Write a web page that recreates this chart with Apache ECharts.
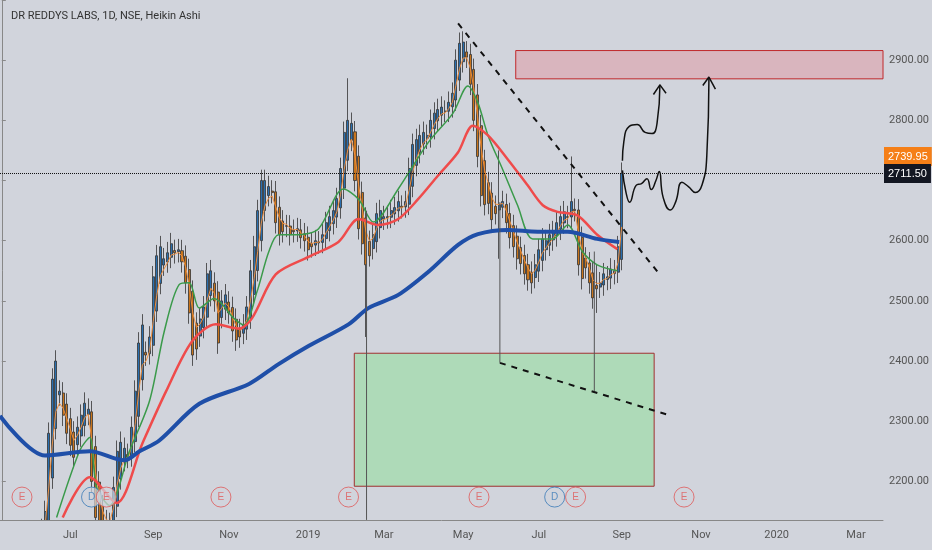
<!DOCTYPE html><html><head><meta charset="utf-8">
<script src="https://cdn.jsdelivr.net/npm/echarts@6/dist/echarts.min.js"></script>
<style>html,body{margin:0;padding:0;background:#d1d4dc}#c{width:932px;height:550px}</style></head><body><div id="c"></div>
<script>
// closes, one per 2 trading days
const closes=[2100,2095,2090,2085,2080,2085,2090,2095,2100,2105,2110,2120,
2150,2280,2370,2400,2350,2310,2280,2260,2240,2290,2310,2330,2320,2200,2140,2120,2110,2115,
2130,2190,2250,2265,2255,2240,2290,2350,2430,2460,2410,2440,2540,2575,2590,2570,2580,2595,2580,2585,
2565,2530,2480,2410,2420,2470,2490,2545,2550,2500,2430,2500,2510,2480,2450,2435,2440,2460,2490,2550,
2590,2650,2700,2700,2690,2680,2630,2610,2615,2625,2610,2615,2620,2605,2600,2585,2590,2600,2598,2610,
2630,2640,2650,2670,2720,2780,2800,2795,2700,2620,2595,2560,2575,2610,2645,2650,2640,2640,2650,2655,
2665,2655,2665,2720,2760,2768,2775,2780,2775,2800,2812,2818,2822,2815,2830,2845,2900,2928,2930,2905,
2860,2800,2740,2675,2660,2662,2635,2645,2660,2665,2630,2605,2590,2570,2562,2545,2535,2530,2560,2585,
2603,2600,2610,2615,2630,2640,2648,2640,2665,2650,2560,2537,2555,2530,2505,2520,2530,2545,2540,2553,
2550,2590,2712];
const longWicks=[[96,2870,2770],[101,2620,2440],[138,2750,2570],[158,2740,2630],[165,2560,2480],[172,2730,2590]];
const ema200=[[-0.5,2309],[12,2243],[24.4,2250],[34,2235],[38.2,2250],[43.7,2268],[54.8,2329],[68.6,2362],[76.8,2395],[85.1,2425],[96.2,2461],[101.7,2488],[110,2510],[118.3,2548],[126.6,2593],[132.1,2611],[140.4,2618],[148.7,2615],[157,2615],[165.2,2603],[171.3,2598]];
const ema50=[[16.9,2140],[24.4,2207],[31.8,2164],[39,2263],[45.6,2350],[52.8,2433],[59.4,2461],[65.8,2454],[69.4,2471],[76,2544],[85.1,2573],[93.4,2598],[99,2636],[104.5,2626],[110,2636],[115.5,2669],[121,2708],[126.6,2747],[130.7,2791],[134.9,2775],[140.4,2735],[145.9,2692],[150.1,2659],[154.2,2648],[159.7,2642],[165.2,2610],[170.8,2586]];
const ema20=[[15.2,2140],[21.6,2251],[24.4,2273],[26.3,2190],[29.9,2160],[35.4,2250],[41,2334],[45.1,2450],[49.2,2527],[52,2530],[54.8,2488],[58.9,2504],[64.4,2471],[67.2,2460],[70.8,2515],[74.1,2582],[76.8,2610],[82.4,2610],[87.9,2620],[94.8,2686],[99,2669],[103.1,2631],[110,2686],[118.3,2763],[125.2,2812],[129.3,2857],[132.1,2829],[134.9,2775],[139,2718],[143.1,2659],[147.3,2603],[152.8,2603],[157,2626],[161.1,2582],[165.2,2560],[170.8,2550]];
const path1=[[172.2,2733],[172.6,2765],[174.1,2790],[176.3,2793],[178.5,2780],[180.4,2778],[181.8,2795],[182.6,2859]];
const path2=[[172.2,2717],[173.2,2680],[174.2,2664],[176,2692],[177.5,2695],[179,2703],[180.2,2685],[181.5,2700],[182.4,2715],[183.5,2672],[185.5,2651],[187,2665],[188.7,2697],[190.5,2690],[192.5,2680],[194.3,2693],[195.6,2740],[196.2,2870]];
const eventMarks=[[5.6,'E','#e05a5a'],[24.9,'D','#3a7ab8'],[29,'E','#e05a5a'],[60.8,'E','#e05a5a'],[96.2,'E','#e05a5a'],[132.4,'E','#e05a5a'],[153.4,'D','#3a7ab8'],[159.2,'E','#e05a5a'],[189.3,'E','#e05a5a']];
const yTicks=[2200,2300,2400,2500,2600,2700,2800,2900];
const N=245;
const cats=[];{let d=new Date(Date.UTC(2018,4,9));let k=0;while(cats.length<N){const w=d.getUTCDay();if(w!==0&&w!==6){if(k%2===0)cats.push(d.toISOString().slice(0,10));k++;}d=new Date(d.getTime()+86400000);}}
const mn=['Jan','Feb','Mar','Apr','May','Jun','Jul','Aug','Sep','Oct','Nov','Dec'];
const showIdx=new Set();for(let i=1;i<N;i++){const m=+cats[i].slice(5,7),pm=+cats[i-1].slice(5,7);if(m!==pm&&m%2===1)showIdx.add(i);}
const candles=[];let po=closes[0],pc=closes[0];
closes.forEach((c,i)=>{const o=i===0?c:(po+pc)/2;let h=Math.max(o,c)+18,l=Math.min(o,c)-18;
 const lw=longWicks.find(w=>w[0]===i);if(lw){h=Math.max(h,lw[1]);l=Math.min(l,lw[2]);}
 candles.push([o,c,l,h]);po=o;pc=c;});
const fast=[];let e=closes[0];closes.forEach((c,i)=>{e=i?e+(c-e)*0.4:c;fast.push(e);});
const priceLbl=(v,bg)=>({show:true,position:'end',formatter:v.toFixed(2),backgroundColor:bg,color:'#fff',padding:[4,4],fontSize:11,distance:1});
const chart=echarts.init(document.getElementById('c'));
chart.setOption({backgroundColor:'#d1d4dc',animation:false,
 title:{text:'DR REDDYS LABS, 1D, NSE, Heikin Ashi',left:6,top:6,textStyle:{fontSize:11,fontWeight:'normal',color:'#333',fontFamily:'Roboto'}},
 grid:{left:0,right:45,top:-3.6,bottom:8.4},
 xAxis:[{type:'category',data:cats,z:10,offset:-21,axisLine:{lineStyle:{color:'#888'}},axisTick:{show:false},
  axisLabel:{interval:(i)=>showIdx.has(i),color:'#555',fontSize:11,fontFamily:'Roboto',margin:9,
   formatter:(v)=>{const m=+v.slice(5,7);return m===1?v.slice(0,4):mn[m-1];}},splitLine:{show:false}},
  {type:'value',min:-0.5,max:N-0.5,show:false}],
 yAxis:{type:'value',position:'right',min:2100,max:3000,interval:100,axisLine:{show:true,lineStyle:{color:'#888'}},
  axisTick:{show:true,length:4,lineStyle:{color:'#888'}},splitLine:{show:false},
  axisLabel:{color:'#555',fontSize:11,fontFamily:'Roboto',margin:6,formatter:v=>yTicks.includes(v)?v.toFixed(2):''}},
 graphic:[{type:'rect',z:5,shape:{x:0,y:520,width:887,height:30},style:{fill:'#d1d4dc'}}],
 series:[
  {type:'line',xAxisIndex:1,data:[],symbol:'none',
   markArea:{silent:true,data:[
    [{xAxis:142.6,yAxis:2916,itemStyle:{color:'rgba(226,150,160,0.5)',borderColor:'#c0282a',borderWidth:1}},{xAxis:N-0.5,yAxis:2869}],
    [{xAxis:97.8,yAxis:2413,itemStyle:{color:'rgba(150,222,160,0.6)',borderColor:'#a03030',borderWidth:1}},{xAxis:181,yAxis:2192}]]},
   markLine:{silent:true,symbol:'none',data:[
    [{coord:[-0.5,2739.95],lineStyle:{color:'rgba(0,0,0,0)',width:1},label:priceLbl(2739.95,'#f57f17')},{coord:[N-0.5,2739.95]}],
    [{coord:[-0.5,2711.5],lineStyle:{color:'#111',type:'dotted',width:1},label:priceLbl(2711.5,'#131722')},{coord:[N-0.5,2711.5]}]]}},
  {type:'candlestick',data:candles,barWidth:'70%',itemStyle:{color:'#2a6fb0',color0:'#c8741b',borderColor:'#333',borderColor0:'#333',borderWidth:0.8}},
  {type:'line',xAxisIndex:1,data:fast.map((v,i)=>[i,v]),symbol:'none',lineStyle:{color:'#f09040',width:1},z:3},
  {type:'line',xAxisIndex:1,data:ema20,smooth:0.3,symbol:'none',lineStyle:{color:'#3a9a4a',width:1.5},z:3},
  {type:'line',xAxisIndex:1,data:ema50,smooth:0.3,symbol:'none',lineStyle:{color:'#ef4b4b',width:2.5},z:3},
  {type:'line',xAxisIndex:1,data:ema200,smooth:0.3,symbol:'none',lineStyle:{color:'#1f4fa8',width:4},z:3},
  {type:'line',xAxisIndex:1,data:[[126.6,2961],[182.4,2545]],symbol:'none',lineStyle:{color:'#111',type:[6,6],width:2},z:4},
  {type:'line',xAxisIndex:1,data:[[138.2,2397],[184.6,2311]],symbol:'none',lineStyle:{color:'#111',type:[6,6],width:2},z:4},
  {type:'line',xAxisIndex:1,data:[[138.2,2664],[138.2,2397]],symbol:'none',lineStyle:{color:'#555',width:1},z:4},
  {type:'line',xAxisIndex:1,data:[[164.4,2582],[164.4,2350]],symbol:'none',lineStyle:{color:'#555',width:1},z:4},
  {type:'line',xAxisIndex:1,data:[[101.2,2650],[101.2,2136]],symbol:'none',lineStyle:{color:'#555',width:1},z:4},
  {type:'line',xAxisIndex:1,data:path1,smooth:true,symbol:'none',lineStyle:{color:'#111',width:1.5},z:4},
  {type:'line',xAxisIndex:1,data:path2,smooth:true,symbol:'none',lineStyle:{color:'#111',width:1.5},z:4},
  {type:'line',xAxisIndex:1,data:[[180.8,2843],[182.6,2859],[184.3,2845]],symbol:'none',lineStyle:{color:'#111',width:1.5},z:4},
  {type:'line',xAxisIndex:1,data:[[194.5,2858],[196.2,2872],[198,2852]],symbol:'none',lineStyle:{color:'#111',width:1.5},z:4},
  {type:'scatter',xAxisIndex:1,data:eventMarks.map(m=>({value:[m[0],2174],label:{formatter:m[1],color:m[2]},itemStyle:{borderColor:m[2]}})),
   symbol:'circle',symbolSize:20,itemStyle:{color:'rgba(209,212,220,0.9)',borderWidth:1},label:{show:true,position:'inside',fontSize:10},z:6}
 ]});
</script></body></html>
